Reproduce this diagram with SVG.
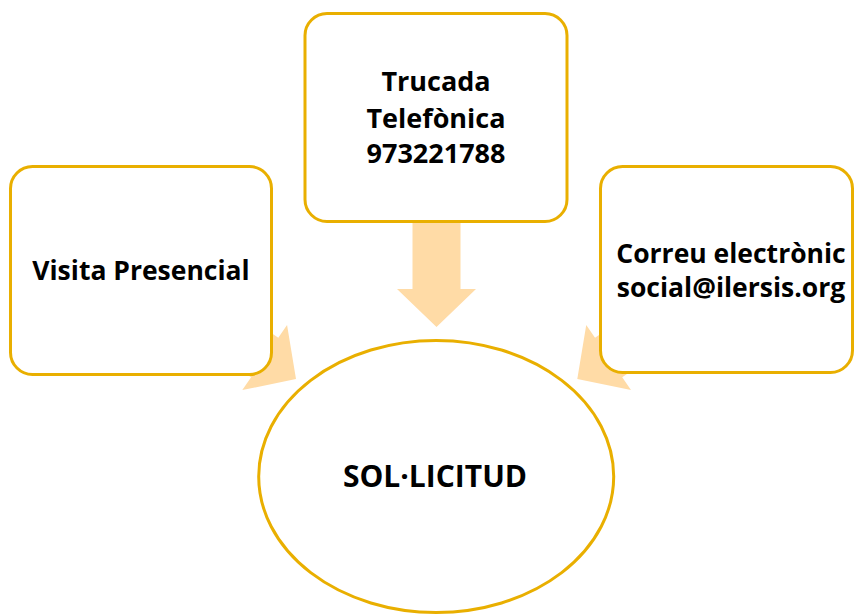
<svg xmlns="http://www.w3.org/2000/svg" width="854" height="614" viewBox="0 0 854 614">
<style>
.box{fill:#fff;stroke:#E9AF00;stroke-width:3}
.arrow{fill:#FFDBA6;stroke:none}
.t{font-family:"Open Sans","Noto Sans","Liberation Sans",sans-serif;font-weight:bold;fill:#000;text-anchor:middle}
</style>
<defs>
<polygon id="arr" points="0,0 -38,-39.5 -38,-24 -120,-24 -120,24 -38,24 -38,39.5"/>
</defs>
<g id="connectors">
<use href="#arr" class="arrow" transform="translate(436.5,327) rotate(90)"/>
<use href="#arr" class="arrow" transform="translate(296,379) rotate(34.5)"/>
<use href="#arr" class="arrow" transform="translate(577.3,379) rotate(145.5)"/>
</g>
<g id="node-top">
<rect class="box" x="305" y="13.5" width="262" height="208" rx="22"/>
<text class="t" x="436" y="90.5" font-size="27">Trucada</text>
<text class="t" x="436" y="127.5" font-size="27">Telefònica</text>
<text class="t" x="436" y="162.5" font-size="27">973221788</text>
</g>
<g id="node-left">
<rect class="box" x="10.5" y="166.5" width="261" height="208" rx="22"/>
<text class="t" x="141" y="279.5" font-size="26.5">Visita Presencial</text>
</g>
<g id="node-right">
<rect class="box" x="600.5" y="166.5" width="252" height="206" rx="22"/>
<text class="t" x="731" y="262.5" font-size="26.5">Correu electrònic</text>
<text class="t" x="731" y="296.5" font-size="26.5">social@ilersis.org</text>
</g>
<g id="node-center">
<ellipse class="box" cx="436.2" cy="476.5" rx="177.5" ry="136"/>
<text class="t" x="435" y="486.5" font-size="30">SOL·LICITUD</text>
</g>
</svg>
